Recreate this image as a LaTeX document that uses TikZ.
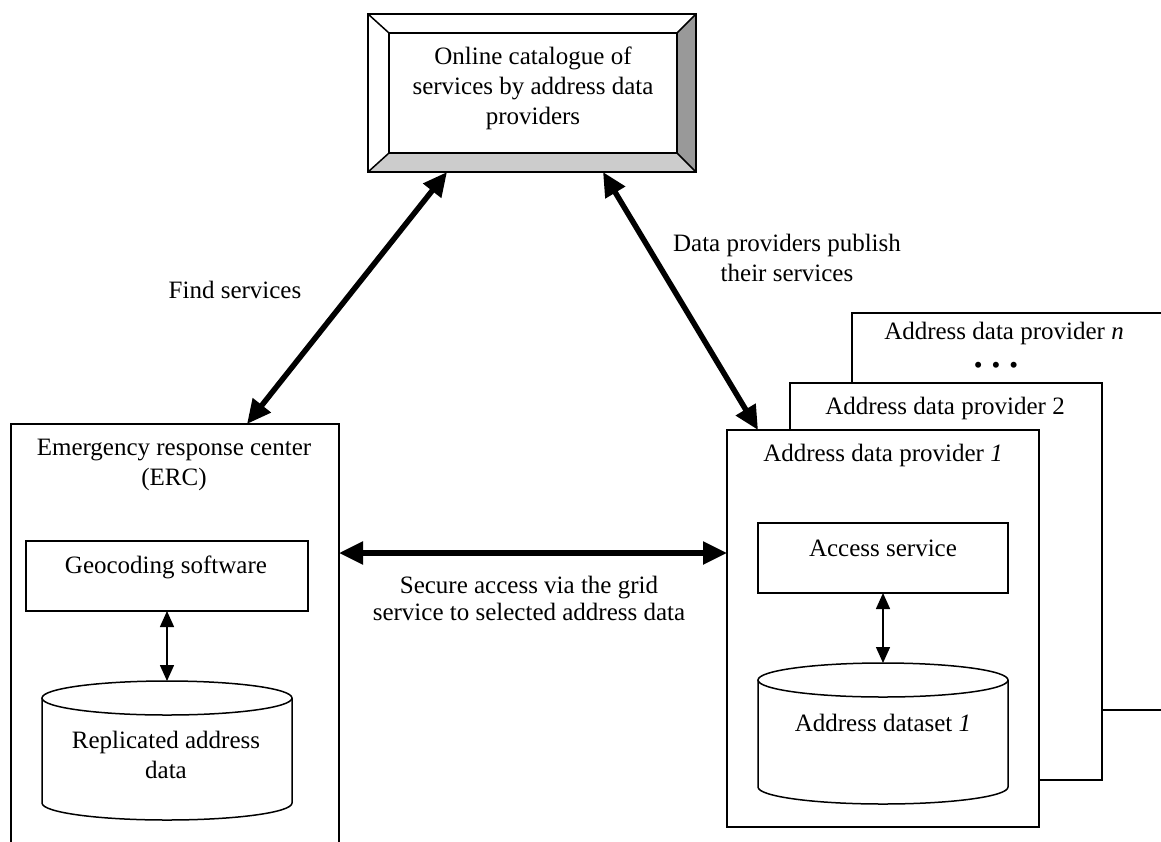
\documentclass[tikz,border=0pt]{standalone}
\usepackage{fontspec}
\setmainfont{Liberation Serif}
\usetikzlibrary{arrows.meta,calc}
\definecolor{bevdark}{HTML}{999999}
\definecolor{bevlight}{HTML}{CCCCCC}
\newcommand{\dbcyl}[4]{%
  \draw[line width=1.5pt, fill=white] (#1,#3) -- (#1,#4)
    .. controls (#1,{#4+9.39}) and ({(#1+#2)/2-69.04},{#4+17}) .. ({(#1+#2)/2},{#4+17})
    .. controls ({(#1+#2)/2+69.04},{#4+17}) and (#2,{#4+9.39}) .. (#2,#4) -- (#2,#3);
  \draw[line width=1.5pt, fill=white] ({(#1+#2)/2},#3) ellipse [x radius=125pt, y radius=17pt];}
\begin{document}
\begin{tikzpicture}[x=1pt,y=-1pt,
  box/.style={draw, line width=1.5pt, fill=white, inner sep=0pt, outer sep=0pt, anchor=north west},
  txt/.style={inner sep=0pt, align=center, font=\fontsize{25}{30}\selectfont},
  big/.style={line width=5.5pt, {Triangle[length=24pt,width=22pt]}-{Triangle[length=24pt,width=22pt]}},
  thinarrow/.style={line width=1.5pt, {Triangle[length=16pt,width=14pt]}-{Triangle[length=16pt,width=14pt]}}]
\clip (0,0) rectangle (1161,841);
\fill[white] (0,0) rectangle (1161,841);

% catalogue box with bevel
\node[box, minimum width=328pt, minimum height=158pt] (catouter) at (368,14) {};
\fill[white] (368,14) -- (696,14) -- (677,33) -- (389,33) -- cycle;
\fill[bevdark] (696,14) -- (696,172) -- (677,153) -- (677,33) -- cycle;
\fill[bevlight] (368,172) -- (696,172) -- (677,153) -- (389,153) -- cycle;
\draw[line width=1.5pt] (368,14) rectangle (696,172);
\node[box, minimum width=288pt, minimum height=120pt] (catinner) at (389,33) {};
\draw[line width=1.5pt] (catouter.north west) -- (catinner.north west)
  (catouter.north east) -- (catinner.north east)
  (catouter.south west) -- (catinner.south west)
  (catouter.south east) -- (catinner.south east);
\node[txt] (tcat) at (533,88) {Online catalogue of\\services by address data\\providers};

% ERC
\node[box, minimum width=328pt, minimum height=460pt] (erc) at (11,424) {};
\node[txt] (terc) at (174,465) {Emergency response center\\(ERC)};
\node[box, minimum width=282pt, minimum height=70pt] (geo) at (26,541) {};
\node[txt] (tgeo) at (166,567) {Geocoding software};
\dbcyl{42}{292}{698}{803}
\coordinate (cylA) at ($(geo.south)+(0,70)$);
\node[txt] (trep) at (166,755) {Replicated address\\data};
\draw[thinarrow] (geo.south) -- (cylA);

% providers
\node[box, minimum width=328pt, minimum height=397pt] (pn) at (852,313) {};
\node[txt] (tpn) at (1004,333) {Address data provider \textit{n}};
\node[txt] (dots) at (996,368) {\textbullet\hspace{9pt}\textbullet\hspace{9pt}\textbullet};
\node[box, minimum width=312pt, minimum height=397pt] (p2) at (790,383) {};
\node[txt] (tp2) at (945,408) {Address data provider 2};
\node[box, minimum width=312pt, minimum height=397pt] (p1) at (727,430) {};
\node[txt] (tp1) at (883,455) {Address data provider \textit{1}};
\node[box, minimum width=250pt, minimum height=70pt] (acc) at (758,523) {};
\node[txt] (tacc) at (883,548) {Access service};
\dbcyl{758}{1008}{680}{787}
\coordinate (cylB) at ($(acc.south)+(0,70)$);
\node[txt] (tds) at (883,723) {Address dataset \textit{1}};
\draw[thinarrow] (acc.south) -- (cylB);

% big arrows
\draw[big] ($(catouter.south west)+(79,0)$) -- ($(erc.north west)+(236,0)$);
\draw[big] ($(catouter.south west)+(235,0)$) -- ($(p1.north west)+(31,0)$);
\draw[big] ($(erc.north east)+(0,129)$) -- ($(p1.north west)+(0,123)$);

% labels
\node[txt] (tfind) at (235,290) {Find services};
\node[txt] (tpub) at (787,258) {Data providers publish\\their services};
\node[txt] (tsec) at (529,598) {Secure access via the grid\\[-3pt]service to selected address data};
\end{tikzpicture}
\end{document}
